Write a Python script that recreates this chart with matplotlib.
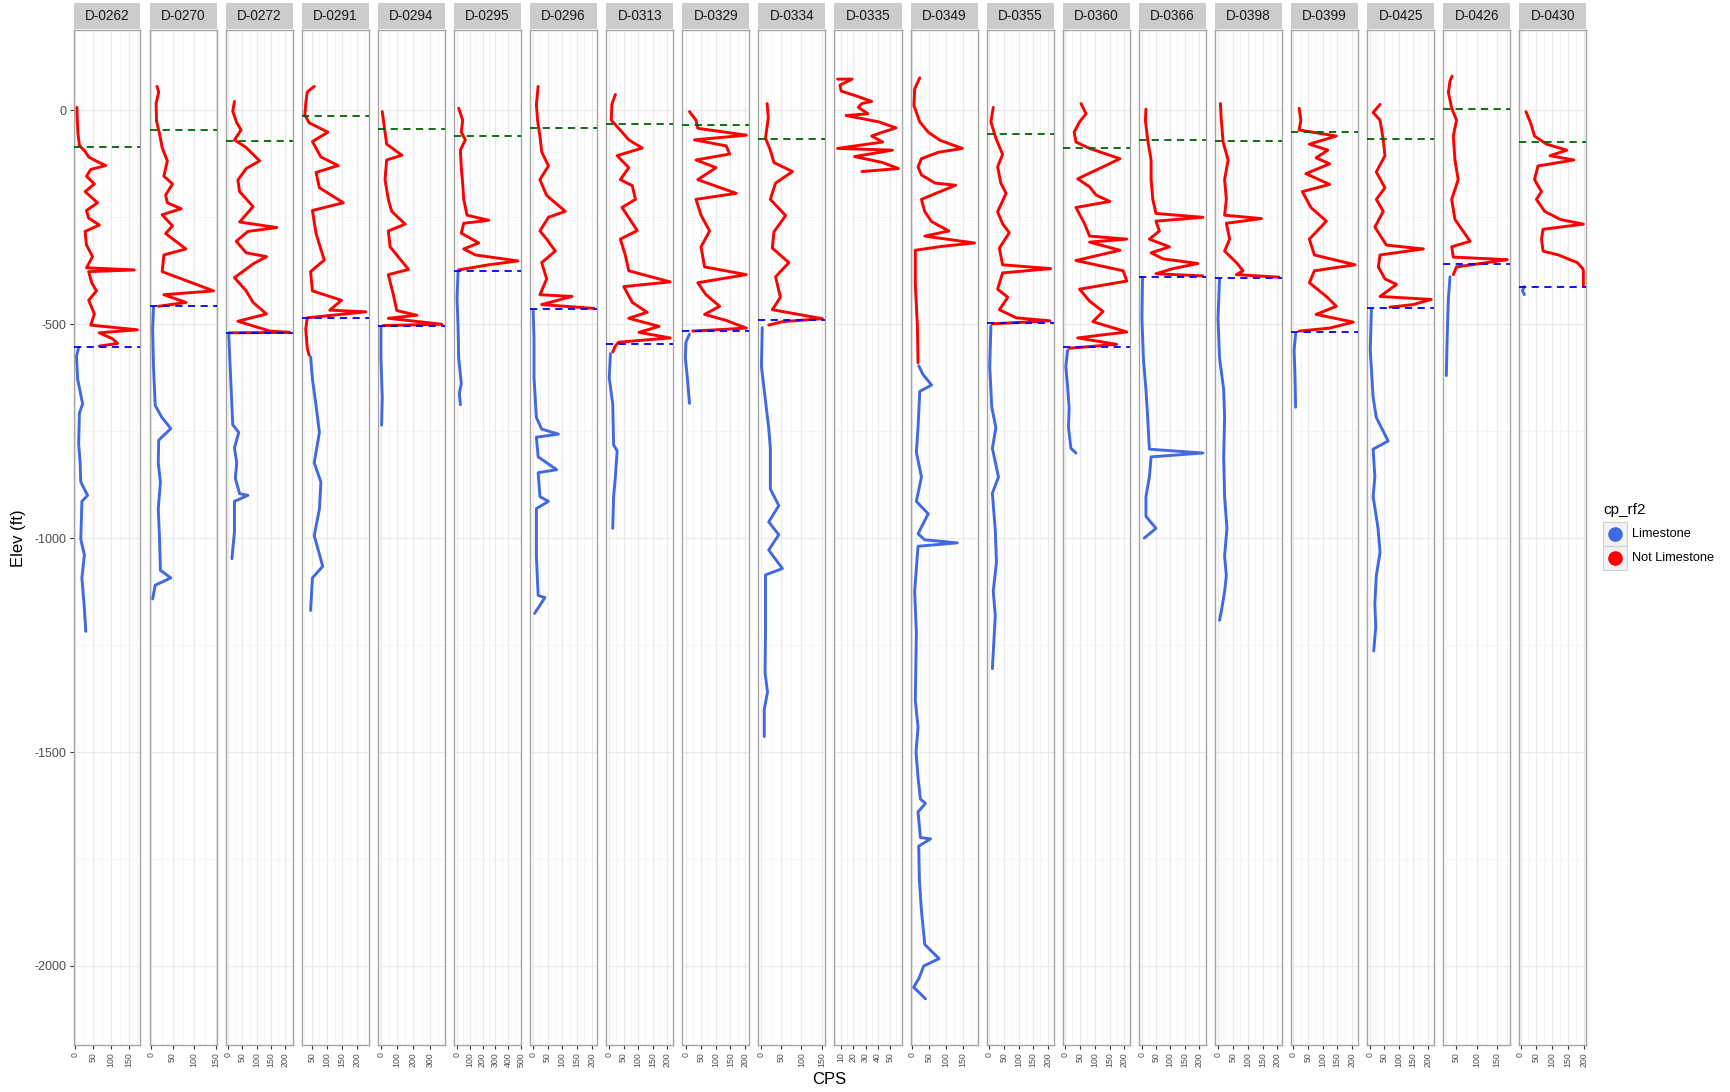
import numpy as np
import matplotlib.pyplot as plt
from matplotlib.patches import Rectangle
from matplotlib.lines import Line2D
from matplotlib.ticker import MultipleLocator, AutoMinorLocator

plt.rcParams['font.family'] = ['Liberation Sans', 'DejaVu Sans']

wells = ['D-0262', 'D-0270', 'D-0272', 'D-0291', 'D-0294', 'D-0295', 'D-0296',
         'D-0313', 'D-0329', 'D-0334', 'D-0335', 'D-0349', 'D-0355', 'D-0360',
         'D-0366', 'D-0398', 'D-0399', 'D-0425', 'D-0426', 'D-0430']

# elevation of the green (top) and blue (limestone top) dashed picks, None = no pick
green_tops = [-85, -45, -71, -13, -44, -60, -42, -32, -34, -68,
              None, None, -55, -87, -69, -71, -51, -67, 3, -75]
blue_tops = [-553, -458, -520, -486, -505, -375, -465, -546, -516, -491,
             None, None, -497, -554, -389, -392, -517, -461, -358, -412]

x_ticks = [[0, 50, 100, 150], [0, 50, 100, 150], [0, 50, 100, 150, 200],
           [50, 100, 150, 200], [0, 100, 200, 300], [0, 100, 200, 300, 400, 500],
           [0, 50, 100, 150, 200], [0, 50, 100, 150, 200], [0, 50, 100, 150, 200],
           [0, 50, 100, 150], [10, 20, 30, 40, 50], [0, 50, 100, 150],
           [0, 50, 100, 150, 200], [0, 50, 100, 150, 200], [0, 50, 100, 150, 200],
           [0, 50, 100, 150, 200], [0, 50, 100, 150, 200], [0, 50, 100, 150, 200],
           [50, 100, 150], [0, 50, 100, 150, 200]]

# (elev ft, CPS) read off each log; red = Not Limestone, blue = Limestone
D0262_red = [(7, 5), (-20, 6), (-55, 8), (-82, 12), (-96, 28), (-109, 38), (-118, 58), (-129, 86),
             (-138, 44), (-154, 32), (-172, 54), (-190, 28), (-216, 63), (-234, 32), (-252, 38),
             (-268, 68), (-283, 28), (-315, 32), (-342, 49), (-368, 32), (-373, 166), (-377, 38),
             (-404, 47), (-422, 60), (-444, 38), (-476, 54), (-502, 44), (-513, 175), (-520, 68),
             (-534, 105), (-545, 119), (-551, 68)]
D0262_blue = [(-554, 10), (-574, 4), (-628, 7), (-686, 21), (-708, 12), (-780, 10), (-824, 14),
              (-869, 16), (-900, 35), (-914, 19), (-1003, 16), (-1039, 26), (-1093, 19),
              (-1164, 26), (-1218, 30)]
D0270_red = [(56, 14), (43, 18), (16, 12), (-25, 13), (-55, 20), (-87, 26), (-118, 38), (-154, 30),
             (-172, 50), (-198, 34), (-216, 38), (-230, 70), (-244, 26), (-270, 50), (-288, 34),
             (-324, 81), (-338, 30), (-377, 26), (-422, 145), (-431, 30), (-449, 81), (-458, 18)]
D0270_blue = [(-460, 6), (-511, 4), (-600, 6), (-690, 10), (-717, 25), (-744, 46), (-771, 18),
              (-824, 17), (-869, 22), (-932, 17), (-1003, 20), (-1075, 22), (-1093, 46),
              (-1110, 10), (-1142, 4)]
D0272_red = [(21, 22), (-2, 16), (-29, 30), (-46, 45), (-69, 22), (-87, 63), (-118, 110), (-136, 63),
             (-163, 34), (-190, 40), (-207, 63), (-225, 87), (-261, 40), (-274, 170), (-283, 69),
             (-306, 28), (-333, 63), (-342, 134), (-359, 87), (-391, 22), (-422, 63), (-449, 87),
             (-476, 134), (-493, 34), (-516, 146), (-519, 215), (-520, 4)]
D0272_blue = [(-522, 2), (-556, 4), (-645, 10), (-735, 16), (-753, 37), (-789, 22), (-824, 30),
              (-860, 25), (-896, 40), (-900, 69), (-914, 22), (-985, 22), (-1048, 13)]
D0291_red = [(56, 58), (43, 35), (16, 30), (-11, 27), (-29, 41), (-51, 103), (-73, 52), (-109, 80),
             (-129, 137), (-145, 64), (-181, 75), (-216, 154), (-234, 52), (-288, 64), (-350, 91),
             (-377, 46), (-422, 52), (-444, 148), (-467, 109), (-471, 228), (-485, 35), (-511, 30),
             (-556, 35), (-572, 41)]
D0291_blue = [(-576, 46), (-628, 52), (-690, 64), (-753, 75), (-824, 58), (-869, 80), (-932, 75),
              (-994, 58), (-1066, 86), (-1093, 52), (-1169, 46)]
D0294_red = [(-3, 9), (-23, 16), (-51, 26), (-79, 36), (-105, 129), (-116, 36), (-162, 26),
             (-208, 46), (-236, 67), (-266, 149), (-282, 46), (-319, 57), (-372, 170), (-384, 46),
             (-431, 77), (-468, 98), (-479, 222), (-486, 46), (-500, 374), (-503, 16)]
D0294_blue = [(-507, 1), (-579, 1), (-625, 5), (-671, 9), (-736, 5)]
D0295_red = [(5, 14), (-23, 45), (-51, 34), (-69, 66), (-93, 27), (-134, 34), (-171, 45), (-208, 53),
             (-245, 79), (-257, 248), (-264, 53), (-287, 34), (-310, 170), (-324, 53), (-338, 144),
             (-352, 476), (-361, 248), (-373, 14)]
D0295_blue = [(-377, 9), (-440, 1), (-505, 9), (-579, 14), (-639, 34), (-662, 19), (-688, 27)]
D0296_red = [(56, 18), (14, 12), (-23, 16), (-60, 24), (-97, 30), (-130, 53), (-162, 24), (-199, 47),
             (-236, 110), (-250, 53), (-282, 24), (-301, 47), (-329, 76), (-356, 30), (-394, 47),
             (-431, 24), (-435, 133), (-454, 30), (-463, 208)]
D0296_blue = [(-468, 1), (-532, 4), (-625, 4), (-718, 12), (-745, 30), (-757, 87), (-764, 12),
              (-810, 18), (-840, 81), (-847, 18), (-903, 24), (-914, 53), (-931, 12), (-1042, 12),
              (-1134, 18), (-1139, 41), (-1176, 6)]
D0313_red = [(37, 22), (14, 10), (-23, 8), (-51, 45), (-69, 68), (-88, 114), (-106, 28), (-134, 68),
             (-162, 39), (-176, 80), (-208, 91), (-227, 45), (-281, 97), (-301, 39), (-338, 56),
             (-375, 68), (-401, 210), (-412, 51), (-449, 80), (-472, 131), (-486, 68), (-505, 172),
             (-519, 103), (-532, 210), (-542, 33), (-551, 22), (-565, 13)]
D0313_blue = [(-569, 5), (-625, 1), (-687, 13), (-782, 16), (-796, 28), (-857, 22), (-903, 16),
              (-977, 13)]
D0329_red = [(-3, 12), (-23, 34), (-42, 40), (-58, 204), (-69, 29), (-83, 136), (-102, 148),
             (-116, 34), (-134, 102), (-162, 40), (-194, 170), (-208, 34), (-245, 51), (-282, 80),
             (-319, 51), (-366, 63), (-384, 204), (-403, 40), (-431, 68), (-458, 114), (-477, 63),
             (-491, 136), (-509, 204), (-516, 23)]
D0329_blue = [(-523, 12), (-542, 0), (-579, -2), (-634, 6), (-685, 12)]
D0334_red = [(16, 15), (-17, 18), (-65, 11), (-93, 23), (-122, 32), (-143, 78), (-170, 36),
             (-208, 23), (-246, 61), (-284, 32), (-322, 28), (-356, 69), (-389, 36), (-437, 48),
             (-466, 28), (-487, 152), (-494, 53), (-502, 19)]
D0334_blue = [(-508, 3), (-599, 1), (-647, 7), (-742, 19), (-790, 23), (-885, 23), (-924, 44),
              (-962, 19), (-992, 44), (-1028, 19), (-1071, 53), (-1086, 11), (-1219, 11),
              (-1315, 10), (-1360, 16), (-1400, 8), (-1464, 8)]
D0335_red = [(73, 7), (73, 19), (59, 9), (45, 10), (35, 21), (21, 35), (16, 27), (7, 24), (-8, 32),
             (-12, 14), (-27, 41), (-41, 55), (-51, 44), (-60, 35), (-74, 44), (-89, 7), (-93, 52),
             (-108, 21), (-122, 44), (-136, 57), (-143, 27)]
D0335_blue = []
D0349_red = [(76, 23), (50, 8), (11, 6), (-27, 23), (-51, 48), (-70, 83), (-89, 149), (-98, 78),
             (-113, 28), (-132, 18), (-151, 28), (-170, 68), (-175, 129), (-208, 28), (-237, 38),
             (-260, 58), (-282, 109), (-294, 38), (-310, 185), (-318, 88), (-327, 10), (-408, 10),
             (-504, 16), (-590, 18)]
D0349_blue = [(-597, 20), (-618, 33), (-642, 58), (-657, 23), (-742, 18), (-799, 13), (-857, 28),
              (-914, 13), (-943, 48), (-990, 18), (-1004, 38), (-1011, 134), (-1019, 18),
              (-1124, 8), (-1219, 13), (-1380, 10), (-1442, 18), (-1500, 12), (-1560, 18),
              (-1610, 25), (-1620, 40), (-1640, 18), (-1700, 25), (-1703, 55), (-1720, 20),
              (-1800, 22), (-1870, 28), (-1950, 38), (-1983, 80), (-2000, 35), (-2030, 20),
              (-2050, 5), (-2065, 25), (-2077, 40)]
D0355_red = [(7, 13), (-27, 5), (-65, 22), (-103, 45), (-132, 28), (-170, 39), (-194, 57),
             (-237, 28), (-265, 45), (-286, 68), (-322, 34), (-361, 45), (-370, 210), (-380, 45),
             (-418, 28), (-437, 63), (-466, 34), (-485, 92), (-492, 208), (-499, 10)]
D0355_blue = [(-504, 5), (-599, 1), (-694, 8), (-742, 22), (-790, 10), (-857, 31), (-895, 10),
              (-981, 20), (-1057, 24), (-1124, 13), (-1181, 20), (-1305, 10)]
D0360_red = [(16, 54), (-8, 71), (-27, 49), (-51, 31), (-74, 37), (-89, 83), (-113, 185),
             (-132, 128), (-160, 43), (-179, 83), (-198, 105), (-213, 151), (-227, 37), (-265, 66),
             (-294, 83), (-301, 208), (-308, 83), (-327, 185), (-351, 37), (-375, 196), (-399, 208),
             (-418, 49), (-446, 83), (-470, 128), (-494, 94), (-518, 208), (-532, 43), (-547, 174),
             (-556, 14)]
D0360_blue = [(-561, 9), (-599, 3), (-647, 9), (-694, 14), (-742, 12), (-790, 20), (-801, 37)]
D0366_red = [(3, 15), (-23, 13), (-69, 21), (-116, 33), (-162, 33), (-208, 39), (-241, 50),
             (-250, 214), (-259, 50), (-282, 62), (-301, 27), (-319, 97), (-333, 33), (-347, 74),
             (-358, 197), (-370, 109), (-382, 50), (-387, 214)]
D0366_blue = [(-391, 3), (-486, 1), (-579, 6), (-653, 15), (-718, 21), (-792, 27), (-801, 214),
              (-810, 33), (-857, 27), (-903, 15), (-949, 15), (-977, 50), (-1000, 9)]
D0398_red = [(16, 8), (-23, 11), (-74, 17), (-116, 34), (-162, 22), (-208, 28), (-245, 22),
             (-253, 146), (-264, 28), (-301, 39), (-329, 22), (-356, 62), (-375, 84), (-384, 62),
             (-390, 205)]
D0398_blue = [(-394, 5), (-486, 0), (-579, 5), (-653, 19), (-718, 22), (-810, 19), (-903, 22),
              (-977, 30), (-1042, 22), (-1088, 28), (-1125, 22), (-1171, 11), (-1192, 5)]
D0399_red = [(5, 20), (-23, 26), (-46, 20), (-60, 147), (-79, 55), (-93, 118), (-111, 78),
             (-125, 124), (-148, 43), (-173, 124), (-190, 31), (-227, 60), (-259, 113), (-301, 55),
             (-338, 72), (-361, 211), (-375, 72), (-403, 55), (-435, 113), (-458, 147), (-477, 78),
             (-495, 205), (-509, 124), (-516, 20)]
D0399_blue = [(-523, 8), (-560, 3), (-625, 6), (-694, 8)]
D0425_red = [(14, 35), (-5, 11), (-23, 35), (-69, 46), (-106, 52), (-144, 22), (-181, 52),
             (-208, 22), (-236, 46), (-273, 17), (-315, 57), (-324, 185), (-338, 35), (-366, 29),
             (-394, 52), (-407, 92), (-435, 35), (-442, 212), (-454, 150), (-460, 69)]
D0425_blue = [(-466, 5), (-560, 1), (-671, 11), (-718, 22), (-773, 63), (-792, 11), (-857, 17),
              (-903, 11), (-977, 28), (-1033, 35), (-1088, 22), (-1153, 17), (-1208, 20),
              (-1264, 13)]
D0426_red = [(80, 40), (69, 35), (42, 31), (5, 39), (-23, 51), (-60, 43), (-116, 47), (-162, 55),
             (-208, 39), (-255, 47), (-306, 84), (-319, 39), (-343, 43), (-349, 175), (-366, 51),
             (-384, 43)]
D0426_blue = [(-389, 35), (-440, 31), (-532, 28), (-620, 26)]
D0430_red = [(-3, 17), (-32, 33), (-60, 44), (-79, 82), (-93, 146), (-106, 93), (-116, 168),
             (-130, 55), (-162, 44), (-190, 66), (-208, 50), (-236, 76), (-255, 125), (-266, 198),
             (-278, 71), (-301, 66), (-329, 71), (-338, 119), (-356, 179), (-370, 196),
             (-375, 198), (-412, 198)]
D0430_blue = [(-412, 12), (-421, 6), (-431, 12)]

red_logs = [D0262_red, D0270_red, D0272_red, D0291_red, D0294_red, D0295_red, D0296_red,
            D0313_red, D0329_red, D0334_red, D0335_red, D0349_red, D0355_red, D0360_red,
            D0366_red, D0398_red, D0399_red, D0425_red, D0426_red, D0430_red]
blue_logs = [D0262_blue, D0270_blue, D0272_blue, D0291_blue, D0294_blue, D0295_blue, D0296_blue,
             D0313_blue, D0329_blue, D0334_blue, D0335_blue, D0349_blue, D0355_blue, D0360_blue,
             D0366_blue, D0398_blue, D0399_blue, D0425_blue, D0426_blue, D0430_blue]

W, H = 1731, 1092
fig = plt.figure(figsize=(W / 100, H / 100), dpi=100)

lime_col = '#4169E1'
notlime_col = '#FF0000'
grid_col = '#EBEBEB'
border_col = '#A6A6A6'

axes = []
for i, well in enumerate(wells):
    left = 73.5 + 76.1 * i
    if i == 0:
        ax = fig.add_axes([left / W, 1 - 1045 / H, 67 / W, 1015 / H])
    else:
        ax = fig.add_axes([left / W, 1 - 1045 / H, 67 / W, 1015 / H], sharey=axes[0])
    axes.append(ax)

    red = np.array(red_logs[i], dtype=float)
    ax.plot(red[:, 1], red[:, 0], color=notlime_col, lw=2.1, zorder=3,
            solid_joinstyle='round', solid_capstyle='round')
    if len(blue_logs[i]):
        blue = np.array(blue_logs[i], dtype=float)
        ax.plot(blue[:, 1], blue[:, 0], color=lime_col, lw=2.1, zorder=3,
                solid_joinstyle='round', solid_capstyle='round')

    if green_tops[i] is not None:
        ax.axhline(green_tops[i], color='#006400', lw=1.3, ls=(0, (4, 3)), zorder=4)
    if blue_tops[i] is not None:
        ax.axhline(blue_tops[i], color='#0000FF', lw=1.3, ls=(0, (4, 3)), zorder=4)

    ax.set_xticks(x_ticks[i])
    ax.xaxis.set_minor_locator(AutoMinorLocator(2))
    ax.yaxis.set_major_locator(MultipleLocator(500))
    ax.yaxis.set_minor_locator(MultipleLocator(250))
    ax.grid(which='major', color=grid_col, lw=0.9)
    ax.grid(which='minor', color='#F4F4F4', lw=0.6)
    ax.set_axisbelow(True)
    ax.tick_params(axis='x', which='major', labelrotation=90, labelsize=6.3,
                   labelcolor='#4D4D4D', length=3, width=0.8, color='#333333', pad=2)
    ax.tick_params(which='minor', length=0)
    if i == 0:
        ax.tick_params(axis='y', which='major', labelsize=9, labelcolor='#4D4D4D',
                       length=3, width=0.8, color='#333333', pad=2)
    else:
        ax.tick_params(axis='y', which='major', labelleft=False, length=0)
    for sp in ax.spines.values():
        sp.set_color(border_col)
        sp.set_linewidth(1.0)

    # facet strip
    strip = Rectangle((0, 1.0 + 1 / 1015), 1, 26 / 1015, transform=ax.transAxes,
                      facecolor='#CCCCCC', edgecolor='none', clip_on=False)
    ax.add_patch(strip)
    ax.text(0.5, 1.0 + 14 / 1015, well, transform=ax.transAxes, ha='center', va='center',
            fontsize=9.8, color='#1A1A1A')

axes[0].set_yticklabels([f'{int(v)}' for v in axes[0].get_yticks()])

fig.text(18 / W, 1 - 538 / H, 'Elev (ft)', rotation=90, ha='center', va='center', fontsize=12)
fig.text(829 / W, 1 - 1080 / H, 'CPS', ha='center', va='center', fontsize=12)

# legend
fig.text(1603 / W, 1 - 510 / H, 'cp_rf2', ha='left', va='center', fontsize=11)
for k, (lab, col) in enumerate([('Limestone', lime_col), ('Not Limestone', notlime_col)]):
    top = 522 + 24 * k
    fig.add_artist(Rectangle((1603 / W, 1 - (top + 24) / H), 24 / W, 24 / H,
                             transform=fig.transFigure, facecolor='#F2F2F2',
                             edgecolor='#D0D0D0', lw=0.8))
    fig.add_artist(Line2D([1615 / W], [1 - (top + 12) / H], transform=fig.transFigure,
                          marker='o', markersize=9.5, color=col, ls='none'))
    fig.text(1632 / W, 1 - (top + 12) / H, lab, ha='left', va='center', fontsize=9.2)

fig.savefig('out.png', dpi=100)
